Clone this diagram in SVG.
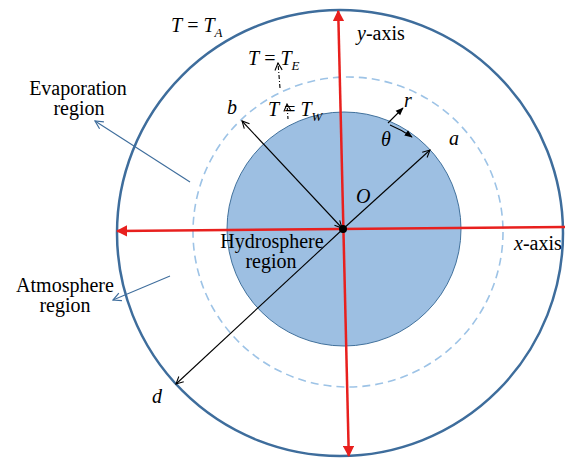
<svg xmlns="http://www.w3.org/2000/svg" width="565" height="459" viewBox="0 0 565 459">
<defs>
<marker id="redHead" viewBox="0 0 10 10" refX="9" refY="5" markerWidth="4.5" markerHeight="4.5" orient="auto-start-reverse" markerUnits="strokeWidth">
<path d="M0,0 L10,5 L0,10 z" fill="#e8201e"/>
</marker>
<marker id="openBlack" viewBox="0 0 10 10" refX="9" refY="5" markerWidth="9" markerHeight="9" orient="auto-start-reverse" markerUnits="userSpaceOnUse">
<path d="M1,1 L9,5 L1,9" fill="none" stroke="#000" stroke-width="1.2"/>
</marker>
<marker id="solidBlack" viewBox="0 0 10 10" refX="9" refY="5" markerWidth="8" markerHeight="8" orient="auto" markerUnits="userSpaceOnUse">
<path d="M0,1 L10,5 L0,9 z" fill="#000"/>
</marker>
<marker id="openBlue" viewBox="0 0 10 10" refX="9" refY="5" markerWidth="10" markerHeight="10" orient="auto" markerUnits="userSpaceOnUse">
<path d="M1,1 L9,5 L1,9" fill="none" stroke="#3e6d9c" stroke-width="1.2"/>
</marker>
</defs>
<style>
text{font-family:"Liberation Serif","Times New Roman",serif;font-size:20px;fill:#000}
.it{font-style:italic}
.sub{font-size:13px;font-style:italic}
.red{stroke:#e8201e;stroke-width:2.5;fill:none}
.blk{stroke:#000;stroke-width:1.1;fill:none}
.ann{stroke:#3e6d9c;stroke-width:1.1;fill:none}
</style>
<g id="atmosphere">
<circle cx="340" cy="233" r="223" fill="none" stroke="#3e6d9c" stroke-width="2.5"/>
</g>
<g id="evaporation">
<circle cx="348" cy="232" r="155" fill="none" stroke="#9dc3e6" stroke-width="1.6" stroke-dasharray="8,5"/>
</g>
<g id="hydrosphere">
<circle cx="344" cy="229" r="117" fill="#9dbfe2" stroke="#41719c" stroke-width="1"/>
</g>
<g id="connectors">
<line class="red" x1="343.5" y1="233" x2="338.2" y2="11" marker-end="url(#redHead)"/>
<line class="red" x1="343.5" y1="233" x2="348.8" y2="456" marker-end="url(#redHead)"/>
<line class="red" x1="570" y1="227" x2="117" y2="231" marker-end="url(#redHead)"/>
<line class="blk" x1="242" y1="121" x2="342" y2="228" marker-start="url(#openBlack)" marker-end="url(#openBlack)"/>
<line class="blk" x1="343" y1="229" x2="430" y2="150" marker-end="url(#openBlack)"/>
<line class="blk" x1="343" y1="229" x2="176" y2="384" marker-end="url(#openBlack)"/>
<line class="blk" x1="388" y1="123" x2="403" y2="108" marker-end="url(#solidBlack)"/>
<path class="blk" d="M390,125 Q402,130 412,137" marker-end="url(#solidBlack)"/>
<line class="blk" x1="280" y1="88" x2="278" y2="63" stroke-dasharray="4,2,1,2" marker-end="url(#openBlack)"/>
<line class="blk" x1="288" y1="119" x2="287" y2="104" stroke-dasharray="3,2,1,2" marker-end="url(#openBlack)"/>
<line class="ann" x1="190" y1="182" x2="95" y2="121" marker-end="url(#openBlue)"/>
<line class="ann" x1="170" y1="276" x2="113" y2="300" marker-end="url(#openBlue)"/>
<circle cx="343" cy="229" r="4" fill="#000"/>
</g>
<g id="labels">
<text x="171" y="32"><tspan class="it">T</tspan> = <tspan class="it">T</tspan><tspan class="sub" dy="5">A</tspan></text>
<text x="357" y="40"><tspan class="it">y</tspan>-axis</text>
<text x="248" y="65"><tspan class="it">T</tspan> = <tspan class="it">T</tspan><tspan class="sub" dy="5">E</tspan></text>
<text x="268" y="116"><tspan class="it">T</tspan> = <tspan class="it">T</tspan><tspan class="sub" dy="5">W</tspan></text>
<text x="227" y="114" class="it">b</text>
<text x="404" y="107" class="it">r</text>
<text x="381" y="146" class="it">θ</text>
<text x="449" y="145" class="it">a</text>
<text x="356" y="203" class="it">O</text>
<text x="152" y="403" class="it">d</text>
<text x="514" y="250"><tspan class="it">x</tspan>-axis</text>
<text x="78" y="95" text-anchor="middle">Evaporation</text>
<text x="79" y="115" text-anchor="middle">region</text>
<text x="65" y="292" text-anchor="middle">Atmosphere</text>
<text x="65" y="312" text-anchor="middle">region</text>
<text x="272" y="248" text-anchor="middle">Hydrosphere</text>
<text x="271" y="268" text-anchor="middle">region</text>
</g>
</svg>
